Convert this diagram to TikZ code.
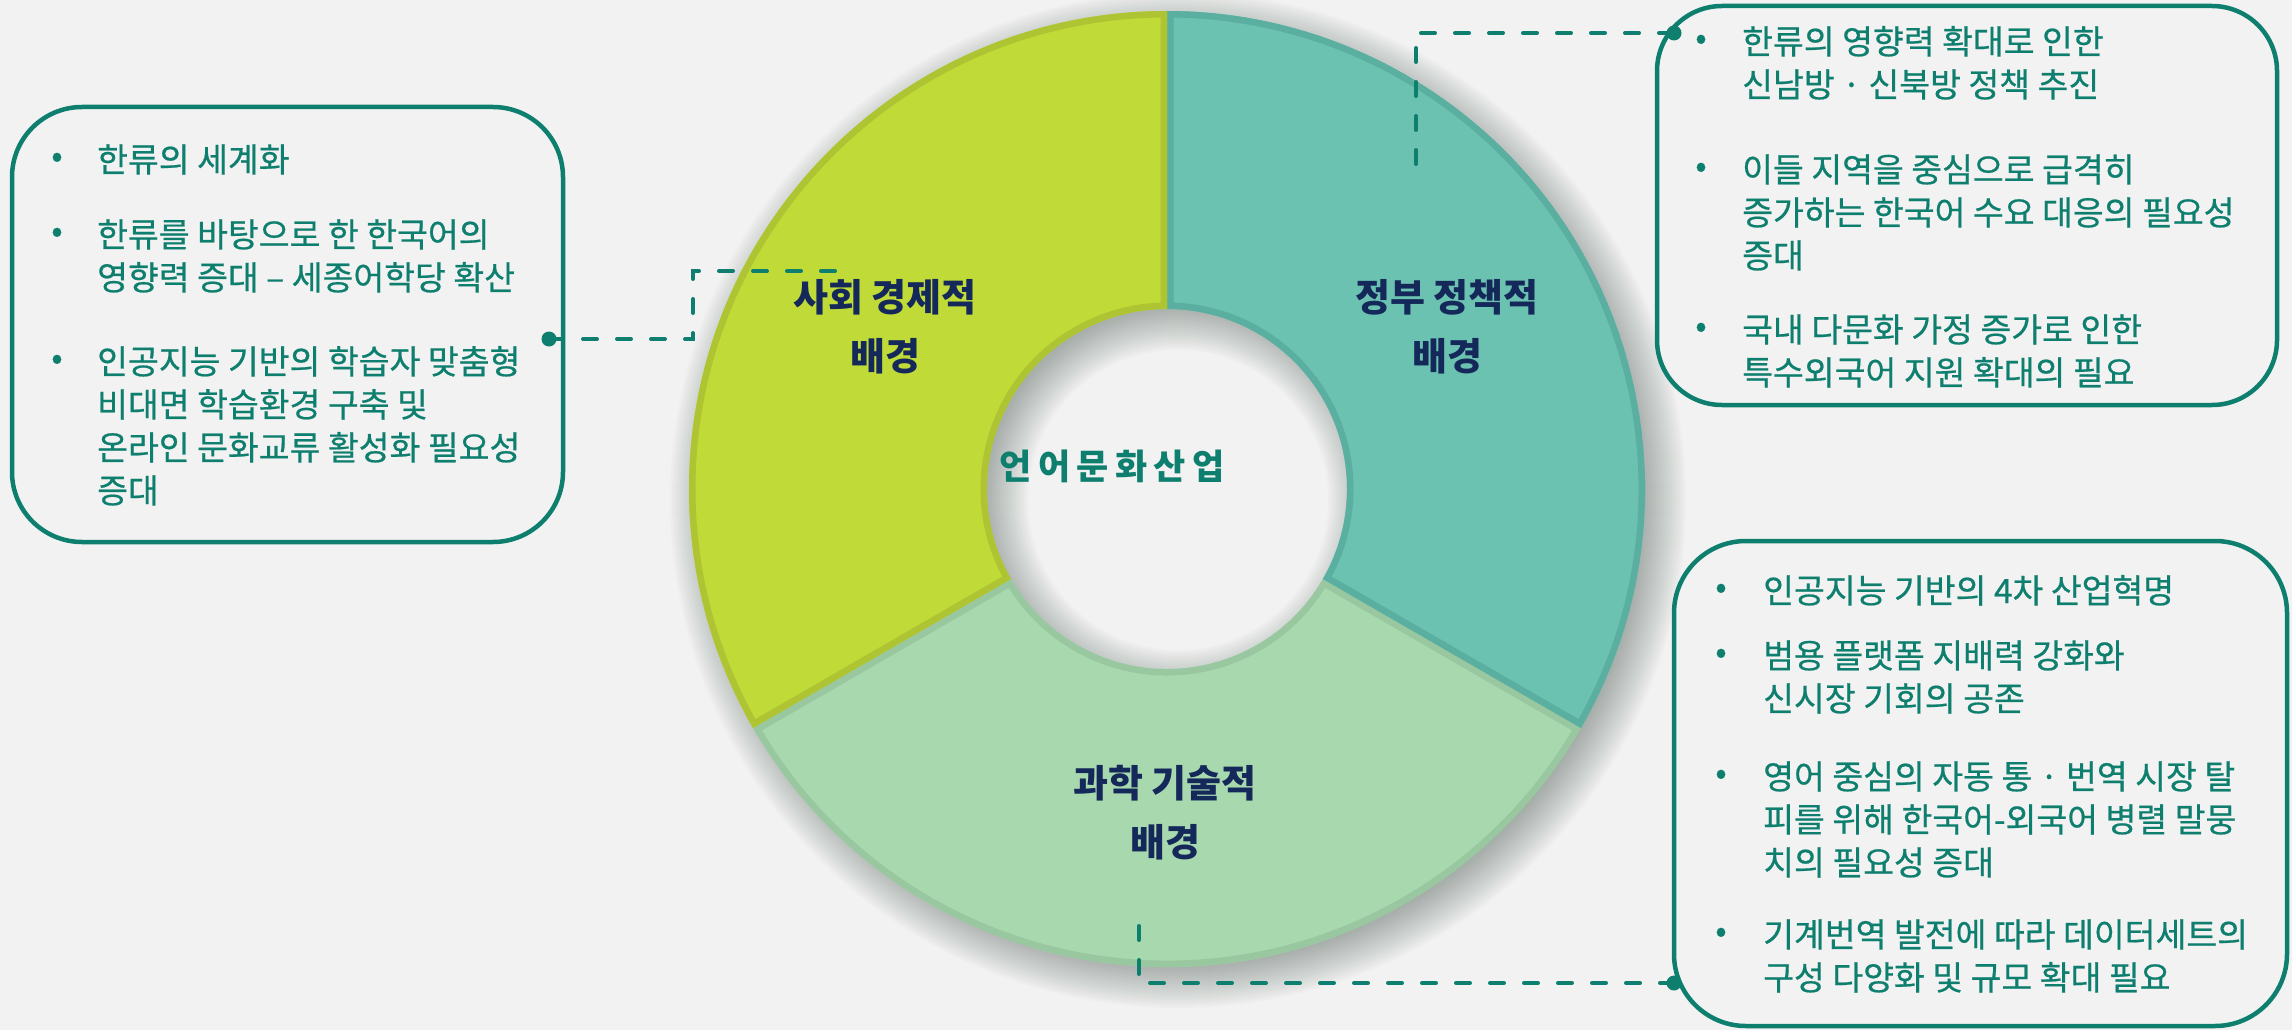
\documentclass[tikz,border=0pt]{standalone}
\usepackage{fontspec}
\newfontfamily\kr[FakeBold=0.6]{Noto Sans CJK KR}
\newfontfamily\krb{Noto Sans CJK KR}
\newfontfamily\krwide[LetterSpace=18]{Noto Sans CJK KR}
\definecolor{bgc}{RGB}{242,242,242}
\definecolor{tealc}{RGB}{14,127,110}
\definecolor{navyc}{RGB}{20,40,90}
\definecolor{ygf}{RGB}{192,218,56}
\definecolor{ygd}{RGB}{174,196,50}
\definecolor{tlf}{RGB}{107,194,177}
\definecolor{tld}{RGB}{90,175,160}
\definecolor{lgf}{RGB}{168,216,174}
\definecolor{lgd}{RGB}{152,199,160}
\definecolor{shc}{RGB}{60,80,70}
\newcommand\lns[1]{\parbox[t]{560pt}{\raggedright #1}}
\begin{document}
\begin{tikzpicture}[x=1pt,y=1pt,
  box/.style={draw=tealc, line width=4.5pt, fill=bgc, inner sep=0pt},
  bul/.style={inner sep=0pt, text=tealc, font=\kr\fontsize{33.5}{43}\selectfont},
  itm/.style={anchor=base west, inner sep=0pt, text=tealc, font=\kr\fontsize{33.5}{43}\selectfont},
  lab/.style={align=center, inner sep=0pt, text=navyc, font=\krb\bfseries\fontsize{38}{59}\selectfont},
  ctr/.style={inner sep=0pt, text=tealc, font=\krwide\bfseries\fontsize{35}{40}\selectfont},
  dotc/.style={circle, fill=tealc, inner sep=0pt, minimum size=15pt},
  conn/.style={draw=tealc, line width=4pt, dash pattern=on 14pt off 20pt, line cap=round}]
\useasboundingbox (0,0) rectangle (2292,-1030);
\fill[bgc] (0,0) rectangle (2292,-1030);

% donut shadow
\begin{scope}[shift={(1178,-500)}]
\foreach \k in {-20,-18,...,30}{
  \fill[shc, opacity=0.02, even odd rule] (0,0) circle[radius=478+\k] (0,0) circle[radius=180-\k];
}
\end{scope}

% donut segments (inner borders)
\begin{scope}[shift={(1167,-489)}]
\begin{scope}
  \clip (210:478) arc[start angle=210,end angle=330,radius=478] -- (330:180) arc[start angle=330,end angle=210,radius=180] -- cycle;
  \fill[lgf] (210:478) arc[start angle=210,end angle=330,radius=478] -- (330:180) arc[start angle=330,end angle=210,radius=180] -- cycle;
  \draw[lgd, line width=13pt, line join=round] (210:478) arc[start angle=210,end angle=330,radius=478] -- (330:180) arc[start angle=330,end angle=210,radius=180] -- cycle;
\end{scope}
\begin{scope}
  \clip (-30:478) arc[start angle=-30,end angle=90,radius=478] -- (90:180) arc[start angle=90,end angle=-30,radius=180] -- cycle;
  \fill[tlf] (-30:478) arc[start angle=-30,end angle=90,radius=478] -- (90:180) arc[start angle=90,end angle=-30,radius=180] -- cycle;
  \draw[tld, line width=13pt, line join=round] (-30:478) arc[start angle=-30,end angle=90,radius=478] -- (90:180) arc[start angle=90,end angle=-30,radius=180] -- cycle;
\end{scope}
\begin{scope}
  \clip (90:478) arc[start angle=90,end angle=210,radius=478] -- (210:180) arc[start angle=210,end angle=90,radius=180] -- cycle;
  \fill[ygf] (90:478) arc[start angle=90,end angle=210,radius=478] -- (210:180) arc[start angle=210,end angle=90,radius=180] -- cycle;
  \draw[ygd, line width=13pt, line join=round] (90:478) arc[start angle=90,end angle=210,radius=478] -- (210:180) arc[start angle=210,end angle=90,radius=180] -- cycle;
\end{scope}
\end{scope}

% donut labels
\node[lab] (soc) at (885,-326.5) {사회 경제적\\배경};
\node[lab] (gov) at (1447,-326.5) {정부 정책적\\배경};
\node[lab] (sci) at (1165,-813) {과학 기술적\\배경};
\node[ctr] (core) at (1112,-466) {언어문화산업};

% boxes
\node[box, rounded corners=70pt, minimum width=551pt, minimum height=435pt] (lbox) at (287.5,-324.5) {};
\node[box, rounded corners=65pt, minimum width=620pt, minimum height=399pt] (tbox) at (1967,-205.5) {};
\node[box, rounded corners=72pt, minimum width=613pt, minimum height=485pt] (bbox) at (1980.5,-783.5) {};

% left box text
\node[bul] (lb1) at (57,-160) {•};
\node[itm] (lt1) at (97,-172) {\lns{한류의 세계화}};
\node[bul] (lb2) at (57,-235) {•};
\node[itm] (lt2) at (97,-247) {\lns{한류를 바탕으로 한 한국어의\\영향력 증대 – 세종어학당 확산}};
\node[bul] (lb3) at (57,-362) {•};
\node[itm] (lt3) at (97,-374) {\lns{인공지능 기반의 학습자 맞춤형\\비대면 학습환경 구축 및\\온라인 문화교류 활성화 필요성\\증대}};

% top right box text
\node[bul] (tb1) at (1701,-42) {•};
\node[itm] (tt1) at (1742,-54) {\lns{한류의 영향력 확대로 인한\\신남방 · 신북방 정책 추진}};
\node[bul] (tb2) at (1701,-170) {•};
\node[itm] (tt2) at (1742,-182) {\lns{이들 지역을 중심으로 급격히\\증가하는 한국어 수요 대응의 필요성\\증대}};
\node[bul] (tb3) at (1701,-330) {•};
\node[itm] (tt3) at (1742,-342) {\lns{국내 다문화 가정 증가로 인한\\특수외국어 지원 확대의 필요}};

% bottom right box text
\node[bul] (bb1) at (1721,-591) {•};
\node[itm] (bt1) at (1763,-603) {\lns{인공지능 기반의 4차 산업혁명}};
\node[bul] (bb2) at (1721,-656) {•};
\node[itm] (bt2) at (1763,-668) {\lns{범용 플랫폼 지배력 강화와\\신시장 기회의 공존}};
\node[bul] (bb3) at (1721,-777) {•};
\node[itm] (bt3) at (1763,-789) {\lns{영어 중심의 자동 통 · 번역 시장 탈\\피를 위해 한국어-외국어 병렬 말뭉\\치의 필요성 증대}};
\node[bul] (bb4) at (1721,-935) {•};
\node[itm] (bt4) at (1763,-947) {\lns{기계번역 발전에 따라 데이터세트의\\구성 다양화 및 규모 확대 필요}};

% connectors
\node[dotc] (ldot) at (549,-339) {};
\node[dotc] (tdot) at (1674,-33) {};
\node[dotc] (bdot) at (1674,-983) {};
\coordinate (lmid) at (693,-271);
\coordinate (lend) at (837,-271);
\coordinate (tend) at (1416,-164);
\coordinate (bend) at (1139,-926);
\draw[conn] (ldot.center) -| (lmid) -- (lend);
\draw[conn] (tend) |- (tdot.center);
\draw[conn] (bend) |- (bdot.center);
\end{tikzpicture}
\end{document}
